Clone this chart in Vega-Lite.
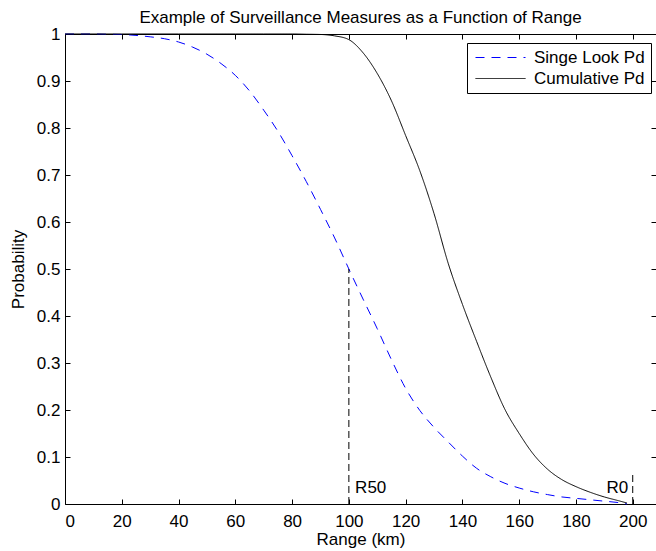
{
  "$schema": "https://vega.github.io/schema/vega-lite/v6.json",
  "width": 591,
  "height": 470,
  "autosize": "none",
  "padding": {"left": 65, "top": 34, "right": 0, "bottom": 47},
  "background": "white",
  "title": {"text": "Example of Surveillance Measures as a Function of Range", "font": "Liberation Sans", "fontSize": 17, "fontWeight": "normal", "color": "black", "offset": -2, "anchor": "middle"},
  "config": {
    "view": {"stroke": null},
    "axis": {"domainColor": "black", "domainWidth": 1, "tickColor": "black", "tickSize": -5, "tickWidth": 1, "labelColor": "black", "labelFont": "Liberation Sans", "labelFontSize": 17, "titleFont": "Liberation Sans", "titleFontSize": 17, "titleFontWeight": "normal", "titleColor": "black", "grid": false}
  },
  "datasets": {
    "curves": [
      {"range": 0, "p": 1.0, "series": "Singe Look Pd"},
      {"range": 5, "p": 1.0, "series": "Singe Look Pd"},
      {"range": 10, "p": 1.0, "series": "Singe Look Pd"},
      {"range": 15, "p": 0.9995, "series": "Singe Look Pd"},
      {"range": 20, "p": 0.999, "series": "Singe Look Pd"},
      {"range": 25, "p": 0.997, "series": "Singe Look Pd"},
      {"range": 30, "p": 0.994, "series": "Singe Look Pd"},
      {"range": 35, "p": 0.99, "series": "Singe Look Pd"},
      {"range": 40, "p": 0.983, "series": "Singe Look Pd"},
      {"range": 45, "p": 0.972, "series": "Singe Look Pd"},
      {"range": 50, "p": 0.957, "series": "Singe Look Pd"},
      {"range": 55, "p": 0.937, "series": "Singe Look Pd"},
      {"range": 60, "p": 0.912, "series": "Singe Look Pd"},
      {"range": 65, "p": 0.879, "series": "Singe Look Pd"},
      {"range": 70, "p": 0.838, "series": "Singe Look Pd"},
      {"range": 75, "p": 0.793, "series": "Singe Look Pd"},
      {"range": 80, "p": 0.741, "series": "Singe Look Pd"},
      {"range": 85, "p": 0.686, "series": "Singe Look Pd"},
      {"range": 90, "p": 0.627, "series": "Singe Look Pd"},
      {"range": 95, "p": 0.566, "series": "Singe Look Pd"},
      {"range": 100, "p": 0.5, "series": "Singe Look Pd"},
      {"range": 105, "p": 0.436, "series": "Singe Look Pd"},
      {"range": 110, "p": 0.373, "series": "Singe Look Pd"},
      {"range": 115, "p": 0.307, "series": "Singe Look Pd"},
      {"range": 120, "p": 0.246, "series": "Singe Look Pd"},
      {"range": 125, "p": 0.199, "series": "Singe Look Pd"},
      {"range": 130, "p": 0.163, "series": "Singe Look Pd"},
      {"range": 135, "p": 0.132, "series": "Singe Look Pd"},
      {"range": 140, "p": 0.102, "series": "Singe Look Pd"},
      {"range": 145, "p": 0.076, "series": "Singe Look Pd"},
      {"range": 150, "p": 0.058, "series": "Singe Look Pd"},
      {"range": 155, "p": 0.044, "series": "Singe Look Pd"},
      {"range": 160, "p": 0.034, "series": "Singe Look Pd"},
      {"range": 165, "p": 0.026, "series": "Singe Look Pd"},
      {"range": 170, "p": 0.02, "series": "Singe Look Pd"},
      {"range": 175, "p": 0.015, "series": "Singe Look Pd"},
      {"range": 180, "p": 0.012, "series": "Singe Look Pd"},
      {"range": 185, "p": 0.009, "series": "Singe Look Pd"},
      {"range": 190, "p": 0.006, "series": "Singe Look Pd"},
      {"range": 195, "p": 0.003, "series": "Singe Look Pd"},
      {"range": 198, "p": 0.0, "series": "Singe Look Pd"},
      {"range": 0, "p": 1.0, "series": "Cumulative Pd"},
      {"range": 20, "p": 1.0, "series": "Cumulative Pd"},
      {"range": 40, "p": 1.0, "series": "Cumulative Pd"},
      {"range": 60, "p": 1.0, "series": "Cumulative Pd"},
      {"range": 70, "p": 1.0, "series": "Cumulative Pd"},
      {"range": 80, "p": 1.0, "series": "Cumulative Pd"},
      {"range": 85, "p": 0.9995, "series": "Cumulative Pd"},
      {"range": 90, "p": 0.999, "series": "Cumulative Pd"},
      {"range": 95, "p": 0.996, "series": "Cumulative Pd"},
      {"range": 100, "p": 0.988, "series": "Cumulative Pd"},
      {"range": 105, "p": 0.96, "series": "Cumulative Pd"},
      {"range": 110, "p": 0.916, "series": "Cumulative Pd"},
      {"range": 115, "p": 0.858, "series": "Cumulative Pd"},
      {"range": 120, "p": 0.784, "series": "Cumulative Pd"},
      {"range": 125, "p": 0.709, "series": "Cumulative Pd"},
      {"range": 130, "p": 0.618, "series": "Cumulative Pd"},
      {"range": 135, "p": 0.512, "series": "Cumulative Pd"},
      {"range": 140, "p": 0.425, "series": "Cumulative Pd"},
      {"range": 145, "p": 0.346, "series": "Cumulative Pd"},
      {"range": 150, "p": 0.27, "series": "Cumulative Pd"},
      {"range": 155, "p": 0.201, "series": "Cumulative Pd"},
      {"range": 160, "p": 0.15, "series": "Cumulative Pd"},
      {"range": 165, "p": 0.106, "series": "Cumulative Pd"},
      {"range": 170, "p": 0.074, "series": "Cumulative Pd"},
      {"range": 175, "p": 0.052, "series": "Cumulative Pd"},
      {"range": 180, "p": 0.037, "series": "Cumulative Pd"},
      {"range": 185, "p": 0.025, "series": "Cumulative Pd"},
      {"range": 190, "p": 0.015, "series": "Cumulative Pd"},
      {"range": 195, "p": 0.007, "series": "Cumulative Pd"},
      {"range": 198, "p": 0.002, "series": "Cumulative Pd"}
    ],
    "markers": [
      {"range": 100, "base": 0, "top": 0.5, "label": "R50", "labelRange": 102.2, "labelP": 0.023},
      {"range": 200, "base": 0, "top": 0.062, "label": "R0", "labelRange": 198.4, "labelP": 0.023}
    ]
  },
  "resolve": {"axis": {"x": "independent", "y": "independent"}},
  "layer": [
    {
      "data": {"name": "curves"},
      "mark": {"type": "line", "interpolate": "monotone", "strokeWidth": 1},
      "encoding": {
        "x": {"field": "range", "type": "quantitative", "scale": {"domain": [0, 208.2], "nice": false, "zero": false},
              "axis": {"orient": "bottom", "values": [0, 20, 40, 60, 80, 100, 120, 140, 160, 180, 200], "title": "Range (km)", "tickSize": -5, "labelPadding": 14, "titlePadding": 2}},
        "y": {"field": "p", "type": "quantitative", "scale": {"domain": [0, 1], "nice": false},
              "axis": {"orient": "left", "values": [0, 0.1, 0.2, 0.3, 0.4, 0.5, 0.6, 0.7, 0.8, 0.9, 1], "format": "~g", "title": "Probability", "tickSize": -5, "labelPadding": 10, "titlePadding": 9}},
        "color": {"field": "series", "type": "nominal", "scale": {"domain": ["Singe Look Pd", "Cumulative Pd"], "range": ["#0000ff", "#000000"]},
                  "legend": {"title": null, "orient": "none", "legendX": 402, "legendY": 9, "fillColor": "white", "strokeColor": "black", "padding": 6, "symbolType": "M-5,0H5", "symbolSize": 100, "symbolOffset": 19, "labelOffset": 25, "symbolStrokeWidth": 1, "labelFont": "Liberation Sans", "labelFontSize": 17, "labelColor": "black", "rowPadding": 3, "cornerRadius": 0}},
        "strokeDash": {"field": "series", "type": "nominal", "scale": {"domain": ["Singe Look Pd", "Cumulative Pd"], "range": [[9, 7], [1, 0]]}, "legend": null}
      }
    },
    {
      "data": {"name": "markers"},
      "mark": {"type": "rule", "color": "black", "strokeWidth": 1, "strokeDash": [7, 4]},
      "encoding": {
        "x": {"field": "range", "type": "quantitative", "scale": {"domain": [0, 208.2], "nice": false, "zero": false},
              "axis": {"orient": "top", "values": [0, 20, 40, 60, 80, 100, 120, 140, 160, 180, 200], "labels": false, "title": null, "tickSize": -5}},
        "y": {"field": "base", "type": "quantitative", "scale": {"domain": [0, 1], "nice": false},
              "axis": {"orient": "right", "values": [0, 0.1, 0.2, 0.3, 0.4, 0.5, 0.6, 0.7, 0.8, 0.9, 1], "labels": false, "title": null, "tickSize": -5}},
        "y2": {"field": "top"}
      }
    },
    {
      "data": {"name": "markers"},
      "transform": [{"filter": "datum.label == 'R50'"}],
      "mark": {"type": "text", "align": "left", "baseline": "alphabetic", "font": "Liberation Sans", "fontSize": 17, "color": "black"},
      "encoding": {
        "x": {"field": "labelRange", "type": "quantitative", "axis": null},
        "y": {"field": "labelP", "type": "quantitative", "axis": null},
        "text": {"field": "label"}
      }
    },
    {
      "data": {"name": "markers"},
      "transform": [{"filter": "datum.label == 'R0'"}],
      "mark": {"type": "text", "align": "right", "baseline": "alphabetic", "font": "Liberation Sans", "fontSize": 17, "color": "black"},
      "encoding": {
        "x": {"field": "labelRange", "type": "quantitative", "axis": null},
        "y": {"field": "labelP", "type": "quantitative", "axis": null},
        "text": {"field": "label"}
      }
    }
  ]
}
